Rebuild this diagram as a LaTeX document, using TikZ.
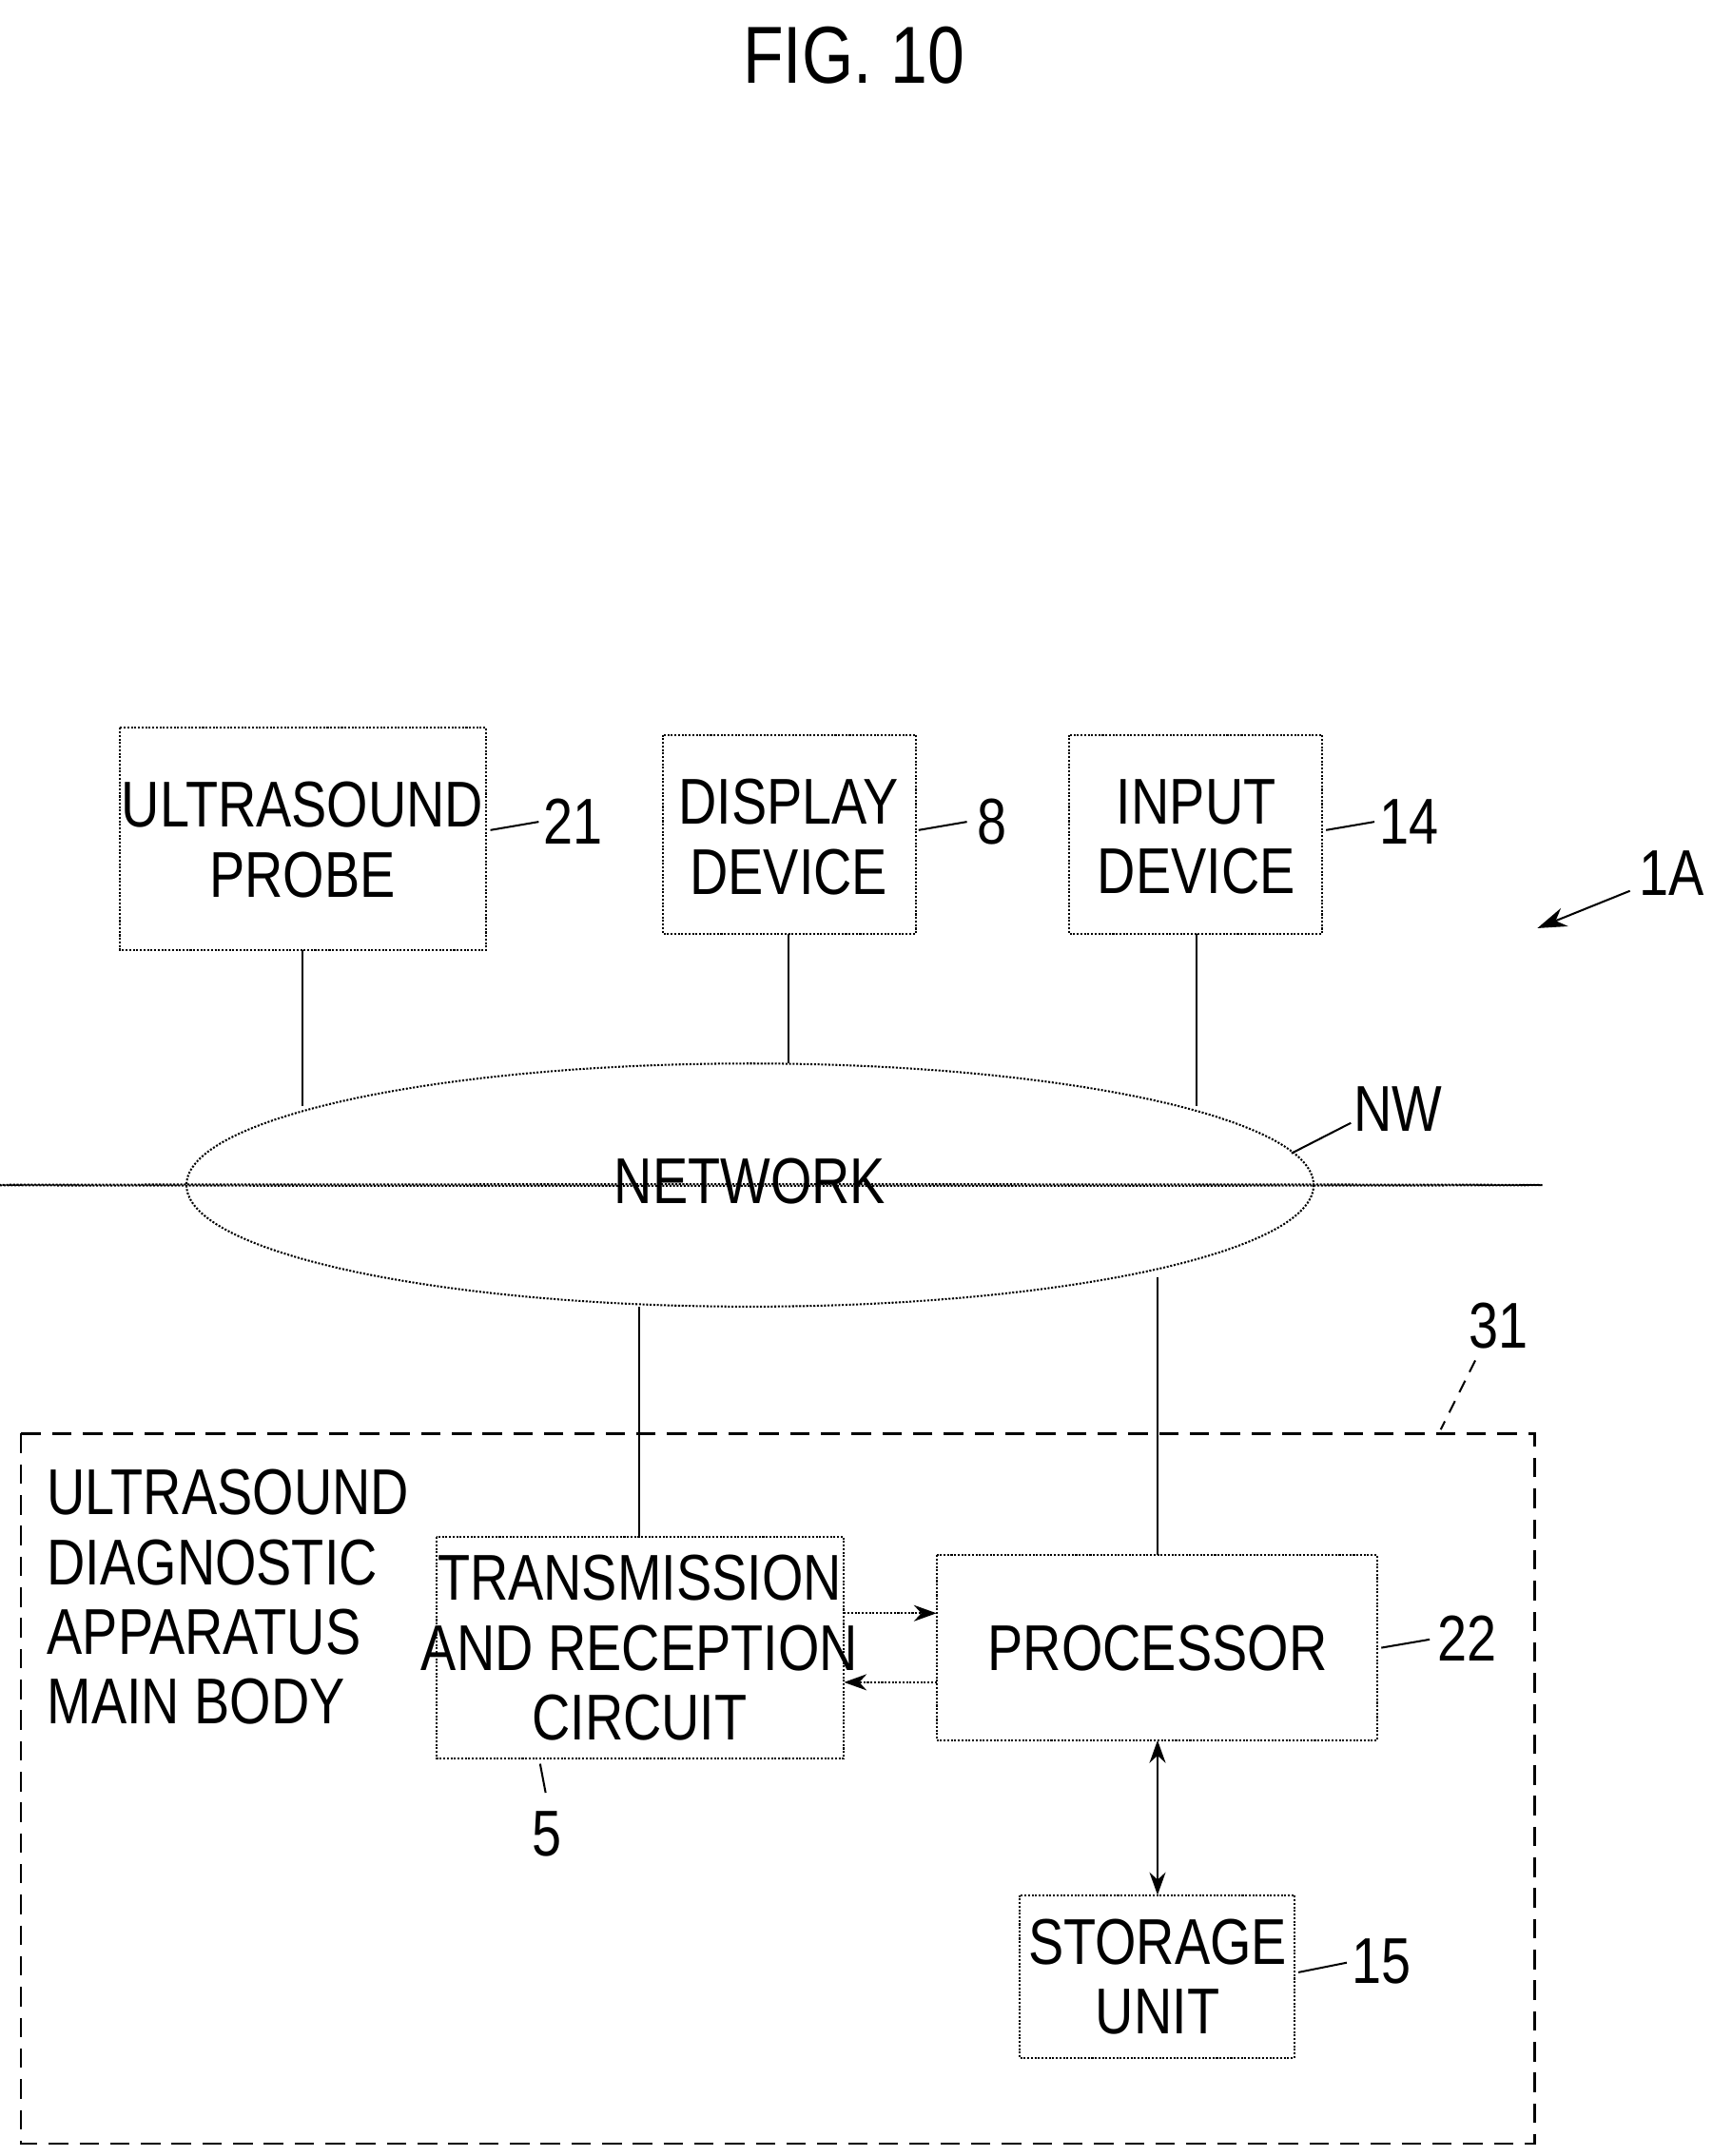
\documentclass[tikz,border=0pt]{standalone}
\usepackage{fontspec}
\setmainfont{Liberation Sans}[FakeStretch=0.82]
\usetikzlibrary{shapes.geometric,arrows.meta}
\begin{document}
\begin{tikzpicture}[x=0.03cm,y=-0.03cm,
  box/.style={draw,line width=1.2pt,densely dotted,inner sep=0},
  ln/.style={line width=1.2pt},
  txt/.style={font=\fontsize{40}{43}\selectfont,align=center},
  lab/.style={font=\fontsize{40}{43}\selectfont}]
\useasboundingbox (0,0) rectangle (1240,1561);
\node[font=\fontsize{50}{55}\selectfont] (title) at (618,40) {FIG. 10};
% top boxes
\draw[box] (87,527) rectangle (352,688);
\node[txt] (probe) at (219,608) {ULTRASOUND\\PROBE};
\draw[box] (480,532) rectangle (663,676);
\node[txt] (disp) at (571,606) {DISPLAY\\DEVICE};
\draw[box] (774,532) rectangle (957,676);
\node[txt] (inp) at (866,606) {INPUT\\DEVICE};
\node[lab] (l21) at (415,595) {21};
\node[lab] (l8) at (718,595) {8};
\node[lab] (l14) at (1020,595) {14};
\draw[ln] (355,601) -- (390,595);
\draw[ln] (665,601) -- (700,595);
\draw[ln] (960,601) -- (995,595);
\node[lab] (l1A) at (1210,632) {1A};
\draw[ln,-{Stealth[length=18pt,width=12pt]}] (1180,645) -- (1113,672);
% network
\node[draw,ellipse,line width=1.2pt,densely dotted,minimum width=816\pgflinewidth,inner sep=0] (nwshape) at (543,858) {};
\draw[line width=1.2pt,densely dotted] (543,858) ellipse [x radius=408,y radius=88];
\node[txt] (nw) at (543,855) {NETWORK};
\node[lab] (lnw) at (1012,803) {NW};
\draw[ln] (978,813) -- (935,835);
\draw[ln] (219,688) -- (219,801);
\draw[ln] (571,676) -- (571,770);
\draw[ln] (866,676) -- (866,801);
% main body
\draw[line width=1.2pt,dash pattern=on 12pt off 7pt] (15,1038) rectangle (1111,1552);
\node[lab] (l31) at (1085,960) {31};
\draw[line width=1.2pt,dash pattern=on 8pt off 6pt] (1068,985) -- (1043,1035);
\node[lab,align=left,anchor=north west] (mb) at (30,1060) {ULTRASOUND\\DIAGNOSTIC\\APPARATUS\\MAIN BODY};
\draw[box] (316,1113) rectangle (611,1273);
\node[txt] (trc) at (463,1193) {TRANSMISSION\\AND RECEPTION\\CIRCUIT};
\draw[box] (678,1126) rectangle (997,1260);
\node[txt] (proc) at (838,1193) {PROCESSOR};
\draw[box] (738,1372) rectangle (937,1490);
\node[txt] (stor) at (838,1431) {STORAGE\\UNIT};
\node[lab] (l5) at (396,1328) {5};
\node[lab] (l22) at (1062,1186) {22};
\node[lab] (l15) at (1000,1420) {15};
\draw[ln] (391,1277) -- (395,1298);
\draw[ln] (1000,1193) -- (1035,1187);
\draw[ln] (940,1428) -- (975,1421);
\draw[ln] (463,946) -- (463,1113);
\draw[ln] (838,925) -- (838,1126);
\draw[ln,densely dotted,-{Stealth[length=14pt,width=10pt]}] (611,1168) -- (678,1168);
\draw[ln,densely dotted,-{Stealth[length=14pt,width=10pt]}] (678,1218) -- (611,1218);
\draw[ln,{Stealth[length=14pt,width=10pt]}-{Stealth[length=14pt,width=10pt]}] (838,1260) -- (838,1372);
\end{tikzpicture}
\end{document}
